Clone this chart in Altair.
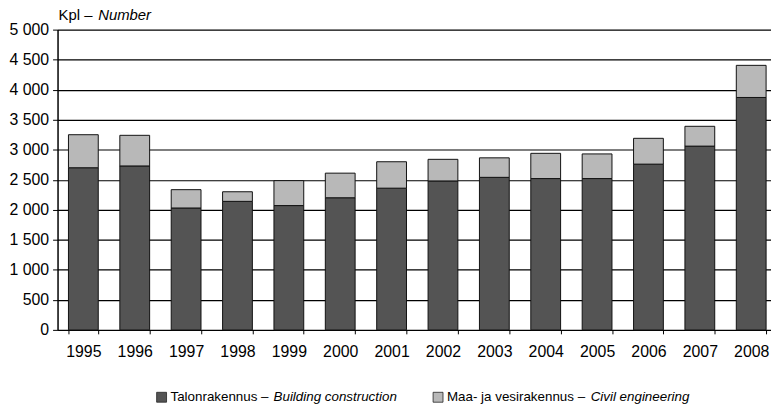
import altair as alt
import pandas as pd

years = [str(y) for y in range(1995, 2009)]
building = [2700, 2730, 2030, 2140, 2070, 2200, 2360, 2480, 2540, 2520, 2520, 2760, 3060, 3870]
civil = [550, 510, 305, 160, 415, 410, 440, 360, 325, 420, 410, 430, 330, 535]
series_keys = ["building", "civil"]
y_ticks = [0, 500, 1000, 1500, 2000, 2500, 3000, 3500, 4000, 4500, 5000]

rows = []
for i, yr in enumerate(years):
    rows.append({"year": yr, "series": "building", "value": building[i], "ord": 0})
    rows.append({"year": yr, "series": "civil", "value": civil[i], "ord": 1})
df = pd.DataFrame(rows)

FONT = "Liberation Sans"
DARK = "#545454"
LIGHT = "#b8b8b8"

bars = alt.Chart(df).mark_bar(stroke="#111", strokeWidth=1).encode(
    x=alt.X("year:N", sort=years, title=None,
            scale=alt.Scale(paddingInner=0.42, paddingOuter=0.154, align=0.69),
            axis=alt.Axis(labelAngle=0, labelFont=FONT, labelFontSize=16, labelColor="#000",
                          domain=False, tickBand="extent", tickSize=4, tickColor="#000",
                          labelPadding=10)),
    y=alt.Y("value:Q", stack="zero", title=None,
            scale=alt.Scale(domain=[0, 5000], nice=False),
            axis=alt.Axis(values=y_ticks,
                          labelExpr="replace(format(datum.value, ','), ',', ' ')",
                          grid=True, gridColor="#000", gridWidth=1.2, gridOpacity=1,
                          domainColor="#000", domainWidth=1.5, tickColor="#000",
                          tickSize=5, labelPadding=4, labelFont=FONT, labelFontSize=16,
                          labelColor="#000")),
    color=alt.Color("series:N", scale=alt.Scale(domain=series_keys, range=[DARK, LIGHT]),
                    legend=None),
    order=alt.Order("ord:Q", sort="ascending"),
)

one = alt.Data(values=[{}])

def txt(s, x, y, italic=False, size=13.5):
    return alt.Chart(one).mark_text(
        text=s, align="left", baseline="middle", font=FONT, fontSize=size,
        fontStyle="italic" if italic else "normal", color="#000"
    ).encode(x=alt.value(x), y=alt.value(y))

def sq(x, y, color):
    return alt.Chart(one).mark_rect(color=color, stroke="#222", strokeWidth=0.8).encode(
        x=alt.value(x), x2=alt.value(x + 10), y=alt.value(y - 5), y2=alt.value(y + 5))

ly = 371
layers = [
    bars,
    txt("Kpl – ", 1, -15, size=15),
    txt("Number", 41, -15, italic=True, size=15),
    sq(100, ly, DARK),
    txt("Talonrakennus – ", 114, ly),
    txt("Building construction", 218, ly, italic=True),
    sq(379, ly, LIGHT),
    txt("Maa- ja vesirakennus – ", 393, ly),
    txt("Civil engineering", 538, ly, italic=True),
]

chart = alt.layer(*layers).properties(
    width=720, height=303,
    autosize=alt.AutoSizeParams(type="none"),
    padding={"left": 50, "top": 20, "right": 0, "bottom": 75},
).configure_view(stroke=None)

chart.save("out.html", embed_options={"renderer": "svg", "actions": False})
